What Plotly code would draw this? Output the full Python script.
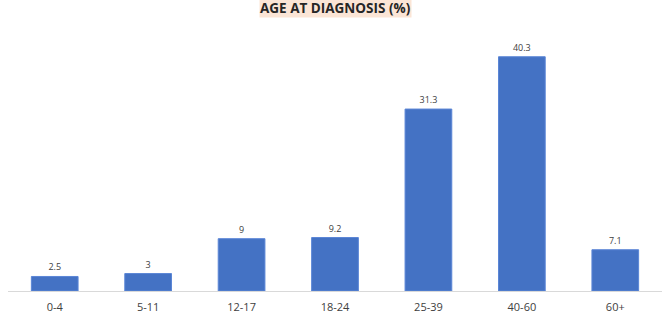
import plotly.graph_objects as go

age_groups = ["0-4", "5-11", "12-17", "18-24", "25-39", "40-60", "60+"]
percent = [2.5, 3, 9, 9.2, 31.3, 40.3, 7.1]
labels = ["2.5", "3", "9", "9.2", "31.3", "40.3", "7.1"]

fig = go.Figure(
    go.Bar(
        x=age_groups,
        y=percent,
        text=labels,
        textposition="outside",
        textfont=dict(size=9, color="#404040", family="Open Sans"),
        cliponaxis=False,
        marker=dict(color="#4472c4", line=dict(color="#5b86d6", width=1)),
    )
)

fig.update_layout(
    width=669,
    height=333,
    margin=dict(l=8, r=7, t=30, b=42),
    paper_bgcolor="white",
    plot_bgcolor="white",
    bargap=0.5,
    showlegend=False,
    annotations=[
        dict(
            text="<b>AGE AT DIAGNOSIS (%)</b>",
            xref="paper",
            yref="paper",
            x=0.5,
            y=1,
            yshift=32,
            xanchor="center",
            yanchor="top",
            showarrow=False,
            font=dict(size=13.5, color="#262626", family="Open Sans"),
            bgcolor="#fbe5d6",
            borderpad=0,
        )
    ],
)

fig.update_xaxes(
    showline=True,
    linecolor="#d9d9d9",
    linewidth=1,
    ticks="",
    tickfont=dict(size=11, color="#404040", family="Open Sans"),
    ticklabelstandoff=6,
)
fig.update_yaxes(visible=False, range=[0, 44.9], showgrid=False, zeroline=False)

fig.write_html("out.html")
